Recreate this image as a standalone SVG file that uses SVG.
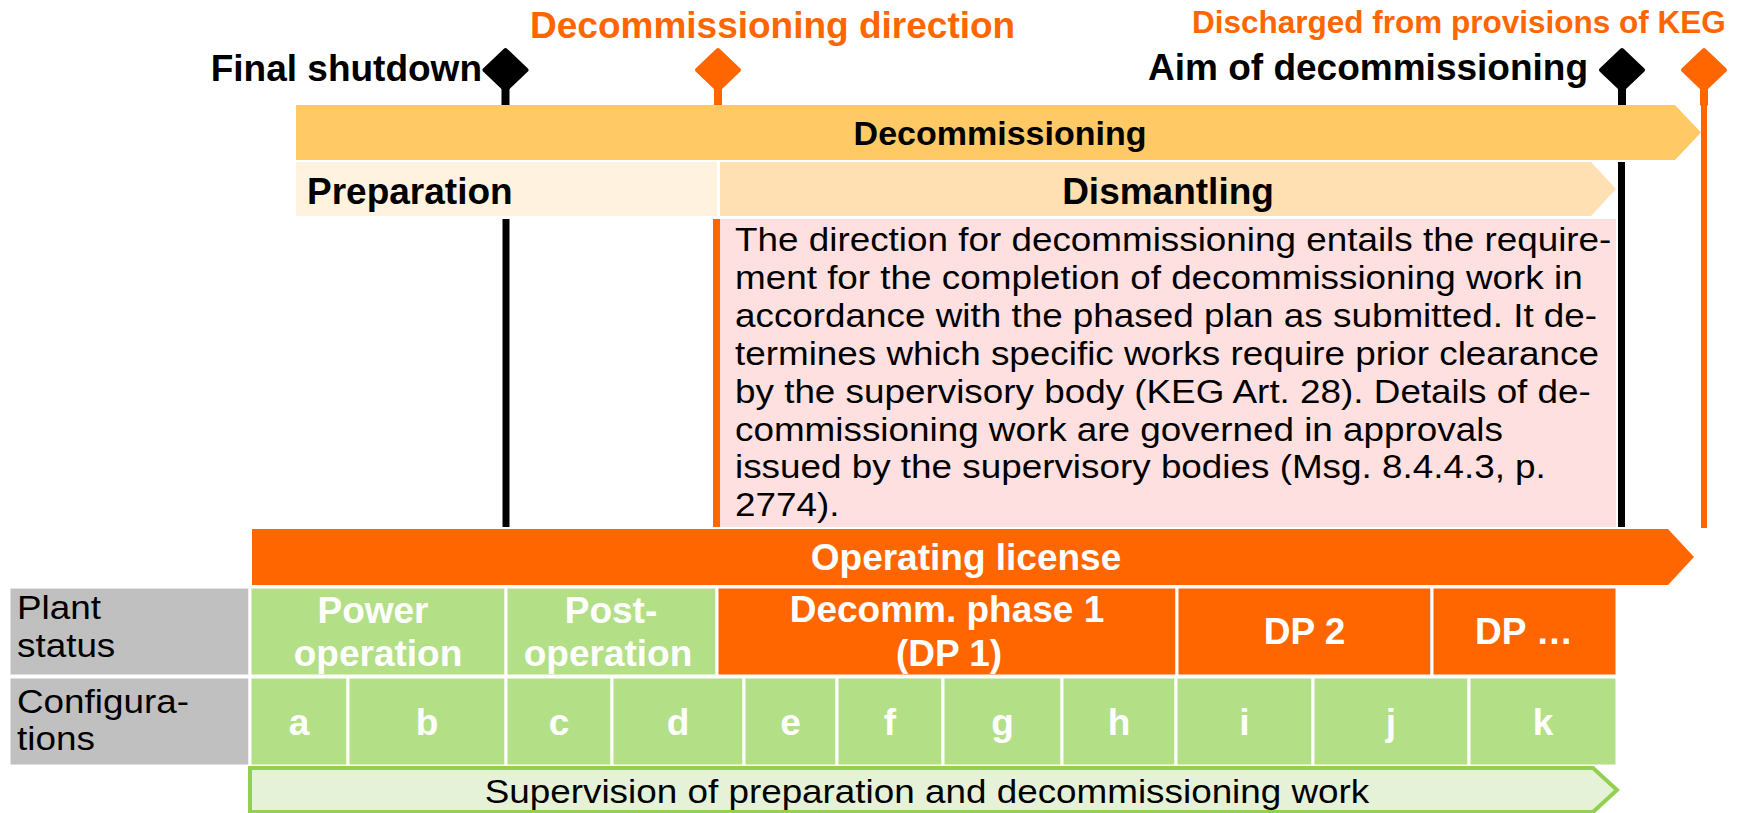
<svg xmlns="http://www.w3.org/2000/svg" width="1750" height="813" viewBox="0 0 1750 813">
  <style>
    .b { font-family: "Liberation Sans", Arial, sans-serif; font-weight: bold; font-size: 37px; }
    .r { font-family: "Liberation Sans", Arial, sans-serif; font-size: 33.5px; fill: #000; }
    .blk { fill: #000; }
    .org { fill: #FF6600; }
    .wht { fill: #fff; }
    .cell-g { fill: #B3DF87; stroke: #fff; stroke-width: 3; }
    .cell-o { fill: #FF6600; stroke: #fff; stroke-width: 3; }
    .cell-gray { fill: #C0C0C0; stroke: #fff; stroke-width: 3; }
    .mid { text-anchor: middle; }
  </style>
  <defs>
    <!-- milestone pin: diamond with a short stem -->
    <g id="pin">
      <polygon points="0,-20 21,0 0,20 -21,0" stroke-width="4" stroke-linejoin="round"/>
      <rect x="-3.5" y="16" width="7" height="19"/>
    </g>
  </defs>
  <rect width="1750" height="813" fill="#fff"/>

  <!-- milestones -->
  <g id="milestone-final-shutdown">
    <use href="#pin" x="505.5" y="70" class="blk" stroke="#000"/>
    <text class="b blk" x="482" y="81" text-anchor="end">Final shutdown</text>
  </g>
  <g id="milestone-direction">
    <use href="#pin" x="718" y="70" class="org" stroke="#FF6600"/>
    <text class="b org" x="530" y="38">Decommissioning direction</text>
  </g>
  <g id="milestone-aim">
    <use href="#pin" x="1622" y="70" class="blk" stroke="#000"/>
    <text class="b blk" x="1588" y="80" text-anchor="end">Aim of decommissioning</text>
  </g>
  <g id="milestone-discharged">
    <use href="#pin" x="1704" y="70" class="org" stroke="#FF6600"/>
    <text class="b org" x="1192" y="33" style="font-size:31.5px">Discharged from provisions of KEG</text>
  </g>

  <!-- vertical milestone lines -->
  <g id="connectors">
    <rect x="502.5" y="219" width="7" height="308" fill="#000"/>
    <rect x="1618" y="162" width="7" height="365" fill="#000"/>
    <rect x="1701" y="88" width="6" height="440" fill="#FF6600"/>
  </g>

  <!-- phase bars -->
  <g id="decommissioning">
    <polygon points="296,105 1675,105 1701,132.5 1675,160 296,160" fill="#FFC966"/>
    <text class="b blk mid" x="1000" y="145" style="font-size:34px">Decommissioning</text>
  </g>
  <g id="preparation">
    <rect x="296" y="162" width="421" height="54" fill="#FFF3E0"/>
    <text class="b blk" x="307" y="204">Preparation</text>
  </g>
  <g id="dismantling">
    <polygon points="720,162 1591,162 1616,189 1591,216 720,216" fill="#FFE0B3"/>
    <text class="b blk mid" x="1168" y="204">Dismantling</text>
  </g>

  <!-- explanatory note on the decommissioning direction -->
  <g id="direction-note">
    <rect x="719" y="219" width="897" height="308" fill="#FFE0E1"/>
    <rect x="713" y="219" width="7" height="308" fill="#FF6600"/>
    <g transform="translate(735 0) scale(1.1 1)">
      <text class="r" x="0" y="251">The direction for decommissioning entails the require-</text>
      <text class="r" x="0" y="289">ment for the completion of decommissioning work in</text>
      <text class="r" x="0" y="327">accordance with the phased plan as submitted. It de-</text>
      <text class="r" x="0" y="365">termines which specific works require prior clearance</text>
      <text class="r" x="0" y="403">by the supervisory body (KEG Art. 28). Details of de-</text>
      <text class="r" x="0" y="441">commissioning work are governed in approvals</text>
      <text class="r" x="0" y="478">issued by the supervisory bodies (Msg. 8.4.4.3, p.</text>
      <text class="r" x="0" y="516">2774).</text>
    </g>
  </g>

  <g id="operating-license">
    <polygon points="252,529 1668,529 1694,557 1668,585 252,585" fill="#FF6600"/>
    <text class="b wht mid" x="966" y="570">Operating license</text>
  </g>

  <!-- plant status row -->
  <g id="plant-status">
    <rect class="cell-gray" x="9" y="587" width="241" height="89"/>
    <g transform="translate(17 0) scale(1.1 1)">
      <text class="r" x="0" y="619">Plant</text>
      <text class="r" x="0" y="657">status</text>
    </g>
    <rect class="cell-g" x="250" y="587" width="256" height="89"/>
    <text class="b wht mid" x="373" y="623">Power</text>
    <text class="b wht mid" x="378" y="666">operation</text>
    <rect class="cell-g" x="506" y="587" width="211" height="89"/>
    <text class="b wht mid" x="611" y="623">Post-</text>
    <text class="b wht mid" x="608" y="666">operation</text>
    <rect class="cell-o" x="717" y="587" width="460" height="89"/>
    <text class="b wht mid" x="947" y="622">Decomm. phase 1</text>
    <text class="b wht mid" x="949" y="666">(DP 1)</text>
    <rect class="cell-o" x="1177" y="587" width="255" height="89"/>
    <text class="b wht mid" x="1304.5" y="644">DP 2</text>
    <rect class="cell-o" x="1432" y="587" width="185" height="89"/>
    <text class="b wht mid" x="1524" y="644">DP …</text>
  </g>

  <!-- configurations row -->
  <g id="configurations">
    <rect class="cell-gray" x="9" y="677" width="241" height="89"/>
    <g transform="translate(17 0) scale(1.1 1)">
      <text class="r" x="0" y="713">Configura-</text>
      <text class="r" x="0" y="750">tions</text>
    </g>
    <rect class="cell-g" x="250" y="677" width="98" height="89"/>
    <text class="b wht mid" x="299" y="735">a</text>
    <rect class="cell-g" x="348" y="677" width="158" height="89"/>
    <text class="b wht mid" x="427" y="735">b</text>
    <rect class="cell-g" x="506" y="677" width="106" height="89"/>
    <text class="b wht mid" x="559" y="735">c</text>
    <rect class="cell-g" x="612" y="677" width="132" height="89"/>
    <text class="b wht mid" x="678" y="735">d</text>
    <rect class="cell-g" x="744" y="677" width="93" height="89"/>
    <text class="b wht mid" x="790.5" y="735">e</text>
    <rect class="cell-g" x="837" y="677" width="106" height="89"/>
    <text class="b wht mid" x="890" y="735">f</text>
    <rect class="cell-g" x="943" y="677" width="119" height="89"/>
    <text class="b wht mid" x="1002.5" y="735">g</text>
    <rect class="cell-g" x="1062" y="677" width="114" height="89"/>
    <text class="b wht mid" x="1119" y="735">h</text>
    <rect class="cell-g" x="1176" y="677" width="137" height="89"/>
    <text class="b wht mid" x="1244.5" y="735">i</text>
    <rect class="cell-g" x="1313" y="677" width="156" height="89"/>
    <text class="b wht mid" x="1391" y="735">j</text>
    <rect class="cell-g" x="1469" y="677" width="148" height="89"/>
    <text class="b wht mid" x="1543" y="735">k</text>
  </g>

  <g id="supervision">
    <polygon points="250,768 1593,768 1617,790 1593,812 250,812" fill="#E6F2D8" stroke="#92D050" stroke-width="4"/>
    <g transform="translate(927 0) scale(1.1 1)">
      <text class="r mid" x="0" y="803">Supervision of preparation and decommissioning work</text>
    </g>
  </g>
</svg>
